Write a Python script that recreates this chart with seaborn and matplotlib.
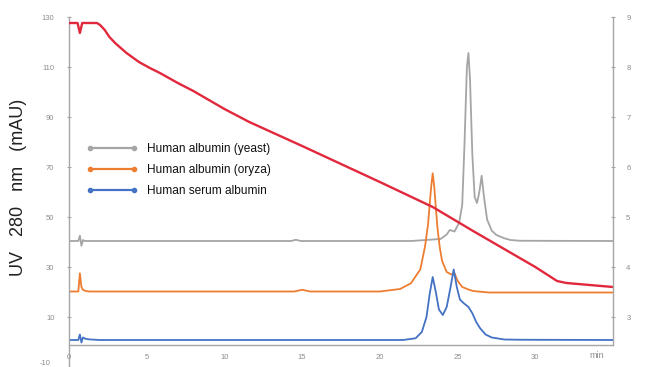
import numpy as np
import pandas as pd
import matplotlib
matplotlib.use("Agg")
import matplotlib.pyplot as plt
from matplotlib.lines import Line2D
import seaborn as sns

# ---------------- data ----------------
series_names = ["Human albumin (yeast)", "Human albumin (oryza)", "Human serum albumin"]

yeast_t = [0, 0.6, 0.7, 0.8, 0.9, 1.0, 14.3, 14.6, 14.9, 22.0, 23.9, 24.3, 24.5, 24.8, 25.1,
           25.3, 25.45, 25.6, 25.7, 25.8, 25.95, 26.1, 26.25, 26.4, 26.55, 26.7, 26.9, 27.2,
           27.5, 28.0, 28.4, 29.0, 35.0]
yeast_v = [40.4, 40.4, 42.5, 38.5, 40.8, 40.4, 40.4, 40.9, 40.4, 40.4, 41.2, 43.0, 44.8, 44.2, 47.6,
           55.0, 80.0, 110.0, 115.6, 105.0, 75.0, 58.0, 55.6, 60.0, 66.5, 58.0, 49.0, 44.5,
           42.8, 41.5, 40.8, 40.5, 40.4]

oryza_t = [0, 0.6, 0.7, 0.8, 0.9, 1.1, 1.3, 14.5, 15.0, 15.5, 20.0, 21.3, 22.0, 22.6, 22.9,
           23.1, 23.3, 23.4, 23.5, 23.7, 23.85, 24.0, 24.3, 24.6, 24.8, 25.0, 25.3, 25.7,
           26.0, 27.0, 35.0]
oryza_v = [20.2, 20.2, 27.5, 22.0, 20.8, 20.4, 20.2, 20.2, 20.9, 20.2, 20.2, 21.2, 23.5, 29.0, 38.0,
           47.0, 62.0, 67.5, 62.0, 46.0, 38.0, 32.5, 28.0, 27.0, 27.5, 24.5, 22.0, 21.0,
           20.4, 19.8, 19.8]

serum_t = [0, 0.6, 0.7, 0.8, 0.9, 1.1, 1.4, 2.0, 21.5, 22.3, 22.7, 23.0, 23.2, 23.4, 23.6,
           23.8, 24.05, 24.3, 24.55, 24.75, 24.95, 25.15, 25.4, 25.7, 25.95, 26.2, 26.45,
           26.8, 27.2, 28.0, 29.0, 35.0]
serum_v = [0.8, 0.8, 3.0, -0.2, 1.8, 1.2, 1.0, 0.8, 0.8, 1.5, 4.0, 10.0, 19.0, 26.0, 20.0,
           13.0, 10.8, 14.0, 22.0, 29.0, 22.0, 17.0, 15.5, 14.0, 11.5, 8.0, 5.5,
           3.0, 1.8, 1.0, 0.9, 0.8]

# gradient trace on the right axis
grad_t = [0, 0.55, 0.7, 0.85, 1.8, 2.0, 2.3, 2.6, 3.0, 3.7, 4.5, 5.2, 5.85, 7.0, 8.0, 9.0,
          10.0, 11.6, 15.0, 20.0, 23.4, 26.0, 29.0, 30.0, 31.0, 31.4, 32.0, 35.0]
grad_v = [8.88, 8.88, 8.68, 8.88, 8.88, 8.84, 8.74, 8.6, 8.47, 8.28, 8.1, 7.98, 7.88, 7.68, 7.52,
          7.34, 7.16, 6.9, 6.42, 5.7, 5.2, 4.72, 4.18, 4.0, 3.8, 3.72, 3.68, 3.6]

left_ticks = [-10, 10, 30, 50, 70, 90, 110, 130]
right_ticks = [3, 4, 5, 6, 7, 8, 9]
x_ticks = [0, 5, 10, 15, 20, 25, 30]

colors = ["#a5a5a5", "#ed7d31", "#4472c4"]
red = "#e2283c"
axis_gray = "#a6a6a6"
tick_gray = "#8c8c8c"

# ---------------- figure ----------------
sns.set_theme(style="white")
plt.rcParams["font.family"] = ["Liberation Sans", "DejaVu Sans"]

W, H = 648, 367
fig = plt.figure(figsize=(W / 100, H / 100), dpi=100)
ax_left, ax_right_px, ax_top, ax_bot = 69, 613, 17, 367
ax = fig.add_axes([ax_left / W, 1 - ax_bot / H, (ax_right_px - ax_left) / W, (ax_bot - ax_top) / H])
ax.set_facecolor("white")

frames = []
for name, t, v in zip(series_names, [yeast_t, oryza_t, serum_t], [yeast_v, oryza_v, serum_v]):
    frames.append(pd.DataFrame({"time": t, "value": v, "series": name}))
df = pd.concat(frames, ignore_index=True)

sns.lineplot(data=df, x="time", y="value", hue="series", palette=dict(zip(series_names, colors)),
             estimator=None, sort=False, linewidth=1.3, legend=False, ax=ax)

ax.set_xlim(0, 35)
ax.set_ylim(-10, 130)
ax.set_xticks(x_ticks)
ax.set_yticks(left_ticks)
ax.set_yticklabels(["" if v == -10 else str(v) for v in left_ticks])
ax.set_xlabel("")
ax.set_ylabel("")

ax.spines["top"].set_visible(False)
ax.spines["right"].set_visible(False)
ax.spines["left"].set_color(axis_gray)
ax.spines["bottom"].set_color(axis_gray)
ax.spines["left"].set_linewidth(1.0)
ax.spines["bottom"].set_linewidth(1.0)
ax.spines["bottom"].set_position(("data", -1.2))
ax.tick_params(axis="both", colors=axis_gray, labelcolor=tick_gray, labelsize=5.5,
               length=3, width=0.8, direction="inout")
ax.tick_params(axis="y", pad=9)
ax.tick_params(axis="x", pad=5)
# the lowest left tick label sits just above the figure edge
ax.annotate("-10", xy=(0, -10), xycoords="data", xytext=(-13, 0), textcoords="offset points",
            ha="right", va="bottom", fontsize=5.5, color=tick_gray, annotation_clip=False)

# right axis with gradient
ax2 = ax.twinx()
gdf = pd.DataFrame({"time": grad_t, "value": grad_v})
sns.lineplot(data=gdf, x="time", y="value", color=red, linewidth=1.7, estimator=None,
             sort=False, ax=ax2)
ax2.set_ylim(2, 9)
ax2.set_yticks(right_ticks)
ax2.set_ylabel("")
ax2.set_xlabel("")
for s in ["top", "left", "bottom"]:
    ax2.spines[s].set_visible(False)
ax2.spines["right"].set_color(axis_gray)
ax2.spines["right"].set_linewidth(1.0)
ax2.spines["right"].set_bounds(2.45, 9)
ax2.tick_params(axis="y", colors=axis_gray, labelcolor=tick_gray, labelsize=5.5,
                length=3, width=0.8, direction="inout", pad=8)

# labels
fig.text(19 / W, 1 - 187 / H, "UV   280   nm   (mAU)", rotation=90, ha="center", va="center",
         fontsize=13, color="#222222")
fig.text(597 / W, 1 - 356 / H, "min", ha="center", va="center", fontsize=6.5, color=tick_gray)

# legend
handles = [Line2D([0], [0], color=c, linewidth=1.6, marker="o", markersize=3,
                  markerfacecolor=c, markeredgecolor=c) for c in colors]
leg = ax.legend(handles, series_names, loc="upper left",
                bbox_to_anchor=(86 / W, 1 - 143 / H), bbox_transform=fig.transFigure,
                frameon=False, fontsize=8.6, numpoints=2, handlelength=4.3,
                handletextpad=0.8, labelspacing=0.75, borderpad=0, borderaxespad=0)
for txt in leg.get_texts():
    txt.set_color("#111111")

fig.savefig("out.png", dpi=100, facecolor="white")
